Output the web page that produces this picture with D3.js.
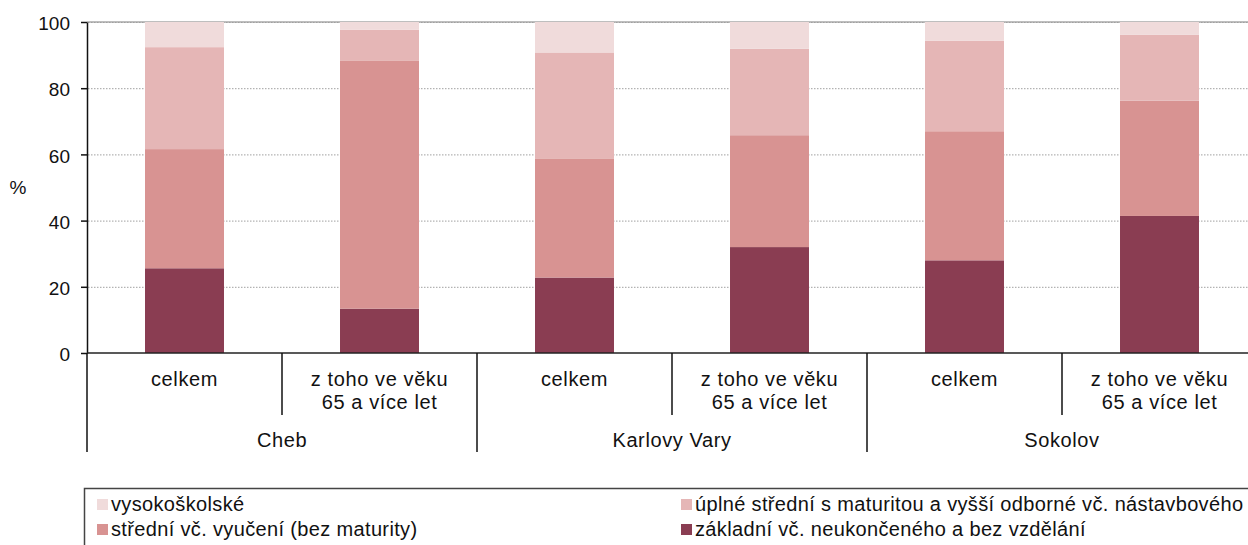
<!DOCTYPE html>
<html>
<head>
<meta charset="utf-8">
<script src="https://cdn.jsdelivr.net/npm/d3@7"></script>
<style>
  body { margin: 0; background: #fff; }
  svg { display: block; font-family: "Liberation Sans", Arial, sans-serif; }
</style>
</head>
<body>
<div id="chart"></div>
<script>
// district groups and the two bars in each
var groups = ["Cheb", "Karlovy Vary", "Sokolov"];
var subLabels = [["celkem"], ["z toho ve věku", "65 a více let"]];

// series, bottom of the stack first (%)
var zakladni       = [25.6, 13.4, 22.8, 32.0, 28.0, 41.4];
var stredniVyuc    = [36.0, 75.0, 36.0, 33.8, 39.0, 34.8];
var uplneStredni   = [30.8,  9.3, 32.0, 26.1, 27.3, 19.9];
var vysokoskolske  = [ 7.6,  2.3,  9.2,  8.1,  5.7,  3.9];

var seriesNames = [
  "základní vč. neukončeného a bez vzdělání",
  "střední vč. vyučení (bez maturity)",
  "úplné střední s maturitou a vyšší odborné vč. nástavbového",
  "vysokoškolské"
];
var yTicks = [0, 20, 40, 60, 80, 100];

var width = 1248, height = 545;
var colors = ["#8a3d52", "#d89392", "#e5b6b6", "#f0dbdb"];

var svg = d3.select("#chart").append("svg")
  .attr("width", width)
  .attr("height", height);

// build rows for the stack
var keys = ["z", "s", "u", "v"];
var rows = zakladni.map(function(d, i) {
  return {
    id: i,
    group: groups[Math.floor(i / 2)],
    sub: i % 2,
    z: zakladni[i], s: stredniVyuc[i], u: uplneStredni[i], v: vysokoskolske[i]
  };
});
var stacked = d3.stack().keys(keys)(rows);

var x0 = 87, step = 195;
var x = d3.scaleBand()
  .domain(rows.map(function(d) { return d.id; }))
  .range([x0, x0 + step * rows.length])
  .paddingInner(0).paddingOuter(0);
var barW = x.bandwidth() * 0.405;

var y = d3.scaleLinear().domain([0, 100]).range([353, 22]);

// gridlines
svg.append("line")
  .attr("x1", x0).attr("x2", width)
  .attr("y1", y(100)).attr("y2", y(100))
  .attr("stroke", "#a8a8a8").attr("stroke-width", 1.5);
svg.append("g").selectAll("line")
  .data(yTicks.filter(function(d) { return d > 0; }))
  .enter().append("line")
  .attr("x1", x0 + 1).attr("x2", width)
  .attr("y1", function(d) { return y(d) + 0.5; })
  .attr("y2", function(d) { return y(d) + 0.5; })
  .attr("stroke", "#a0a0a0")
  .attr("stroke-width", 1)
  .attr("stroke-dasharray", "1.5,1.5");

// bars
svg.append("g").selectAll("g")
  .data(stacked)
  .enter().append("g")
  .attr("fill", function(d, i) { return colors[i]; })
  .selectAll("rect")
  .data(function(d) { return d; })
  .enter().append("rect")
  .attr("x", function(d) { return x(d.data.id) + (x.bandwidth() - barW) / 2; })
  .attr("width", barW)
  .attr("y", function(d) { return y(d[1]); })
  .attr("height", function(d) { return y(d[0]) - y(d[1]); });

// y axis
var yAxis = svg.append("g")
  .attr("transform", "translate(" + x0 + ",0)")
  .call(d3.axisLeft(y).tickValues(yTicks).tickSize(6).tickPadding(11).tickSizeOuter(0));
yAxis.select(".domain").attr("stroke", "#111").attr("stroke-width", 1.5);
yAxis.selectAll(".tick line").attr("stroke", "#111").attr("stroke-width", 1.5);
yAxis.selectAll(".tick text")
  .attr("fill", "#111")
  .style("font-size", "19px")
  .attr("dy", "0.4em");

svg.append("text")
  .attr("x", 18).attr("y", 194)
  .attr("text-anchor", "middle")
  .style("font-size", "19px")
  .attr("fill", "#111")
  .text("%");

// x axis line
svg.append("line")
  .attr("x1", x0).attr("x2", width)
  .attr("y1", y(0)).attr("y2", y(0))
  .attr("stroke", "#222").attr("stroke-width", 1.5);

// separators between bars (long ones at group edges)
var seps = d3.range(rows.length + 1);
svg.append("g").selectAll("line")
  .data(seps)
  .enter().append("line")
  .attr("x1", function(d) { return x0 + d * step; })
  .attr("x2", function(d) { return x0 + d * step; })
  .attr("y1", y(0))
  .attr("y2", function(d) { return d % 2 === 0 ? 452 : 415; })
  .attr("stroke", "#111")
  .attr("stroke-width", 1.5);

// sub labels
var subText = svg.append("g").selectAll("text")
  .data(rows)
  .enter().append("text")
  .attr("text-anchor", "middle")
  .attr("fill", "#111")
  .style("font-size", "20px")
  .style("letter-spacing", "0.6px")
  .attr("x", function(d) { return x(d.id) + x.bandwidth() / 2; })
  .attr("y", 386);
subText.selectAll("tspan")
  .data(function(d) { return subLabels[d.sub]; })
  .enter().append("tspan")
  .attr("x", function() { var p = d3.select(this.parentNode).datum(); return x(p.id) + x.bandwidth() / 2; })
  .attr("dy", function(d, i) { return i === 0 ? 0 : 23; })
  .text(function(d) { return d; });

// group labels
svg.append("g").selectAll("text")
  .data(groups)
  .enter().append("text")
  .attr("text-anchor", "middle")
  .attr("fill", "#111")
  .style("font-size", "20px")
  .style("letter-spacing", "0.6px")
  .attr("x", function(d, i) { return x0 + step * (2 * i + 1); })
  .attr("y", 447)
  .text(function(d) { return d; });

// legend
svg.append("rect")
  .attr("x", 84.5).attr("y", 488.5)
  .attr("width", 1200).attr("height", 100)
  .attr("fill", "none")
  .attr("stroke", "#444")
  .attr("stroke-width", 1.5);

var legendOrder = [3, 2, 1, 0];
var legend = svg.append("g").selectAll("g")
  .data(legendOrder)
  .enter().append("g")
  .attr("transform", function(d, i) {
    var col = i % 2, row = Math.floor(i / 2);
    return "translate(" + (col === 0 ? 97 : 681) + "," + (499 + row * 25) + ")";
  });
legend.append("rect")
  .attr("width", 11).attr("height", 11)
  .attr("fill", function(d) { return colors[d]; });
legend.append("text")
  .attr("x", 14).attr("y", 12)
  .attr("fill", "#111")
  .style("font-size", "20px")
  .style("letter-spacing", "0.35px")
  .text(function(d) { return seriesNames[d]; });
</script>
</body>
</html>
